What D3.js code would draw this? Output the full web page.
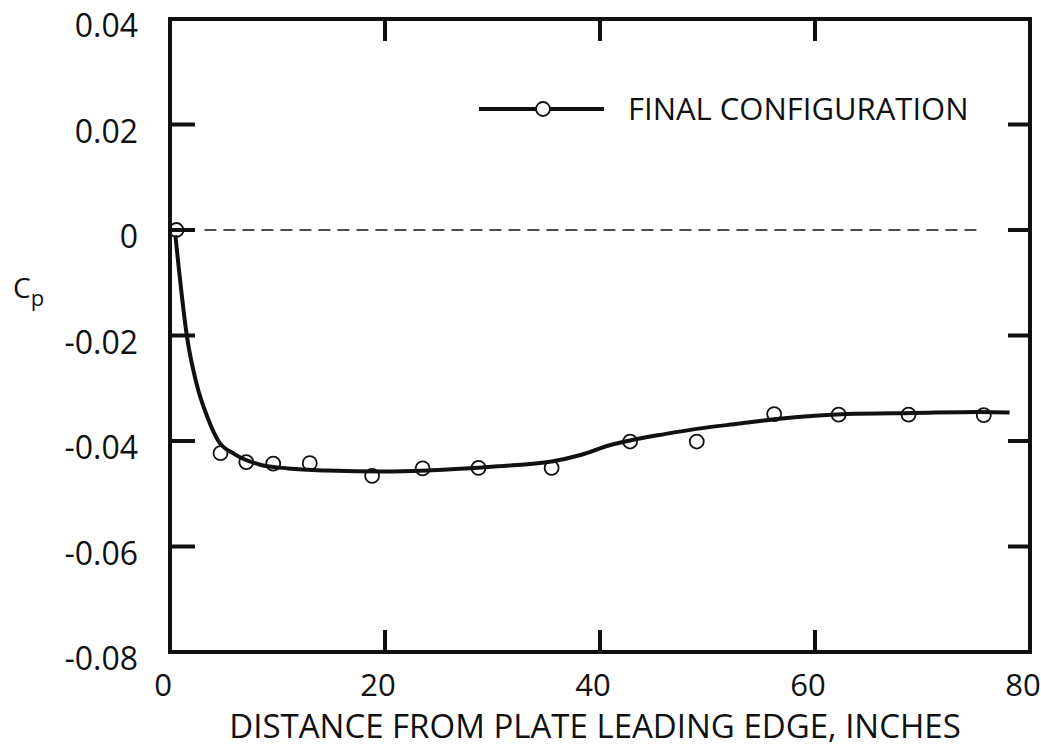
<!DOCTYPE html>
<html>
<head>
<meta charset="utf-8">
<script src="https://cdn.jsdelivr.net/npm/d3@7"></script>
<style>
  body { margin: 0; background: #fff; }
  text { font-family: "Open Sans", sans-serif; fill: #111; }
</style>
</head>
<body>
<div id="chart"></div>
<script>
// measured points (circles)
var pointX = [0.6, 4.7, 7.1, 9.6, 13.0, 18.8, 23.5, 28.7, 35.5, 42.8, 49.0, 56.2, 62.2, 68.7, 75.7];
var pointY = [0.0, -0.0423, -0.0440, -0.0443, -0.0442, -0.0466, -0.0452, -0.0451, -0.0451, -0.0401, -0.0401, -0.0349, -0.0350, -0.0350, -0.0351];

// faired curve through the data
var curveX = [0.5, 1.6, 2.5, 3.5, 4.5, 6, 8.4, 11, 14.6, 20, 23.9, 30.5, 35.5, 38.1, 40.9, 42.8, 46, 49, 53, 56.7, 63, 69.1, 75.3, 78.1];
var curveY = [-0.001, -0.0205, -0.0294, -0.0356, -0.040, -0.0425, -0.0445, -0.0452, -0.0456, -0.0458, -0.0456, -0.0448, -0.0439, -0.0427, -0.0408, -0.0399, -0.0387, -0.0377, -0.0367, -0.0358, -0.0349, -0.0347, -0.0345, -0.0346];

var xTicks = [0, 20, 40, 60, 80];
var yTicks = [0.04, 0.02, 0, -0.02, -0.04, -0.06, -0.08];
var innerX = [20, 40, 60];
var innerY = [0.02, 0, -0.02, -0.04, -0.06];

var width = 1041, height = 747;
var margin = {left: 170, right: 11, top: 19, bottom: 95};

var svg = d3.select("#chart").append("svg")
  .attr("width", width)
  .attr("height", height);

var x = d3.scaleLinear().domain([0, 80]).range([margin.left, width - margin.right]);
var y = d3.scaleLinear().domain([-0.08, 0.04]).range([height - margin.bottom, margin.top]);

var fmt = function(d) { return d === 0 ? "0" : d3.format(".2f")(d).replace("−", "-"); };

// zero reference line (dashed)
svg.append("line")
  .attr("x1", x(3.2)).attr("x2", x(75.4))
  .attr("y1", y(0)).attr("y2", y(0))
  .attr("stroke", "#111")
  .attr("stroke-width", 1.5)
  .attr("stroke-dasharray", "12,7");

// frame
svg.append("rect")
  .attr("x", x(0)).attr("y", y(0.04))
  .attr("width", x(80) - x(0))
  .attr("height", y(-0.08) - y(0.04))
  .attr("fill", "none")
  .attr("stroke", "#111")
  .attr("stroke-width", 4);

// inward ticks
var ticks = svg.append("g").attr("stroke", "#111").attr("stroke-width", 4);
innerY.forEach(function(v) {
  ticks.append("line").attr("x1", x(0)).attr("x2", x(0) + 25).attr("y1", y(v)).attr("y2", y(v));
  ticks.append("line").attr("x1", x(80)).attr("x2", x(80) - 22).attr("y1", y(v)).attr("y2", y(v));
});
innerX.forEach(function(v) {
  ticks.append("line").attr("x1", x(v)).attr("x2", x(v)).attr("y1", y(-0.08)).attr("y2", y(-0.08) - 22);
  ticks.append("line").attr("x1", x(v)).attr("x2", x(v)).attr("y1", y(0.04)).attr("y2", y(0.04) + 22);
});

// tick labels
svg.append("g").selectAll("text")
  .data(yTicks)
  .enter().append("text")
    .attr("x", x(0) - 32)
    .attr("y", function(d) { return y(d) + 7; })
    .attr("dy", "0.35em")
    .attr("text-anchor", "end")
    .style("font-size", "32px")
    .text(fmt);

svg.append("g").selectAll("text")
  .data(xTicks)
  .enter().append("text")
    .attr("x", function(d) { return x(d) - 7; })
    .attr("y", 696)
    .attr("text-anchor", "middle")
    .style("font-size", "31px")
    .text(function(d) { return d; });

// axis titles
svg.append("text")
  .attr("x", 595)
  .attr("y", 738)
  .attr("text-anchor", "middle")
  .style("font-size", "33px")
  .text("DISTANCE FROM PLATE LEADING EDGE, INCHES");

var cp = svg.append("text")
  .attr("x", 13)
  .attr("y", 298)
  .style("font-size", "28px");
cp.append("tspan").text("C");
cp.append("tspan").attr("dy", 8).style("font-size", "22px").text("p");

// curve
var line = d3.line()
  .x(function(d) { return x(d[0]); })
  .y(function(d) { return y(d[1]); })
  .curve(d3.curveMonotoneX);

svg.append("path")
  .datum(d3.zip(curveX, curveY))
  .attr("d", line)
  .attr("fill", "none")
  .attr("stroke", "#111")
  .attr("stroke-width", 4)
  .attr("stroke-linejoin", "round");

// circles
svg.append("g").selectAll("circle")
  .data(d3.zip(pointX, pointY))
  .enter().append("circle")
    .attr("cx", function(d) { return x(d[0]); })
    .attr("cy", function(d) { return y(d[1]); })
    .attr("r", 7)
    .attr("fill", "none")
    .attr("stroke", "#111")
    .attr("stroke-width", 1.8);

// legend
var legY = 109;
svg.append("line")
  .attr("x1", 479).attr("x2", 604)
  .attr("y1", legY).attr("y2", legY)
  .attr("stroke", "#111").attr("stroke-width", 4);
svg.append("circle")
  .attr("cx", 543).attr("cy", legY).attr("r", 7)
  .attr("fill", "#fff").attr("stroke", "#111").attr("stroke-width", 1.8);
svg.append("text")
  .attr("x", 628).attr("y", legY)
  .attr("dy", "0.35em")
  .style("font-size", "31px")
  .text("FINAL CONFIGURATION");
</script>
</body>
</html>
